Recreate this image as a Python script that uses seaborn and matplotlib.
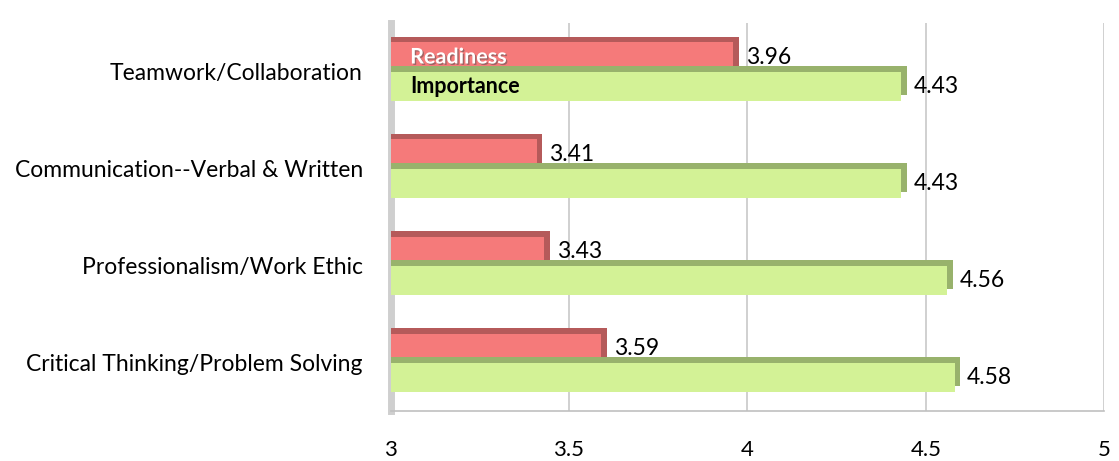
import matplotlib
matplotlib.use("Agg")
import matplotlib.pyplot as plt
import matplotlib.patheffects as pe
import seaborn as sns
import pandas as pd

# Skills and mean scores
skills = [
    "Teamwork/Collaboration",
    "Communication--Verbal & Written",
    "Professionalism/Work Ethic",
    "Critical Thinking/Problem Solving",
]
readiness = [3.96, 3.41, 3.43, 3.59]
importance = [4.43, 4.43, 4.56, 4.58]
series = ["Readiness", "Importance"]
x_ticks = [3, 3.5, 4, 4.5, 5]
x_tick_labels = ["3", "3.5", "4", "4.5", "5"]

df = pd.DataFrame({
    "skill": skills * 2,
    "score": readiness + importance,
    "series": [series[0]] * len(skills) + [series[1]] * len(skills),
})

sns.set_style("white")
plt.rcParams["font.family"] = ["Lato", "DejaVu Sans"]
plt.rcParams["text.color"] = "black"

fig = plt.figure(figsize=(11.19, 4.61), dpi=100)
ax = fig.add_axes([0.349, 0.108, 0.638, 0.842])

palette = {"Readiness": "#F57A7A", "Importance": "#D3F296"}
side = {"Readiness": "#B55A5A", "Importance": "#98B26C"}

sns.barplot(data=df, y="skill", x="score", hue="series", hue_order=series,
            palette=palette, saturation=1, orient="h", width=0.6, gap=0.0,
            legend=False, ax=ax, zorder=3)

# fake the 3D extrusion with an offset darker shadow
for container, name in zip(ax.containers, series):
    for bar in container:
        bar.set_edgecolor("none")
        bar.set_path_effects([
            pe.SimplePatchShadow(offset=(4, 4), shadow_rgbFace=side[name], alpha=1.0),
            pe.Normal(),
        ])

ax.set_xlim(3, 5)
ax.set_xticks(x_ticks)
ax.set_xticklabels(x_tick_labels, fontsize=16, color="black")
ax.xaxis.grid(True, color="#C8C8C8", linewidth=1.2, zorder=0)
ax.set_xlabel("")
ax.set_ylabel("")
ax.tick_params(axis="y", labelsize=16.5, pad=20, length=0, labelcolor="black")
ax.tick_params(axis="x", pad=21, length=0)

for s in ["top", "right"]:
    ax.spines[s].set_visible(False)
ax.spines["left"].set_color("#CFCFCF")
ax.spines["left"].set_linewidth(5)
ax.spines["bottom"].set_color("#C0C0C0")
ax.spines["bottom"].set_linewidth(1.2)

# value labels
ax.bar_label(ax.containers[0], labels=[f"{v:.2f}" for v in readiness],
             padding=9, fontsize=16.5, color="black")
ax.bar_label(ax.containers[1], labels=[f"{v:.2f}" for v in importance],
             padding=9, fontsize=16.5, color="black")

# series names written inside the first pair of bars
r_bar = ax.containers[0][0]
i_bar = ax.containers[1][0]
ax.text(3.055, r_bar.get_y() + r_bar.get_height() * 0.5, "Readiness",
        color="white", fontsize=15.5, fontweight="bold", va="center", zorder=5,
        path_effects=[pe.withSimplePatchShadow(offset=(1, -1), alpha=0.5)])
ax.text(3.055, i_bar.get_y() + i_bar.get_height() * 0.5, "Importance",
        color="black", fontsize=15.5, fontweight="bold", va="center", zorder=5)

fig.savefig("out.png", dpi=100)
